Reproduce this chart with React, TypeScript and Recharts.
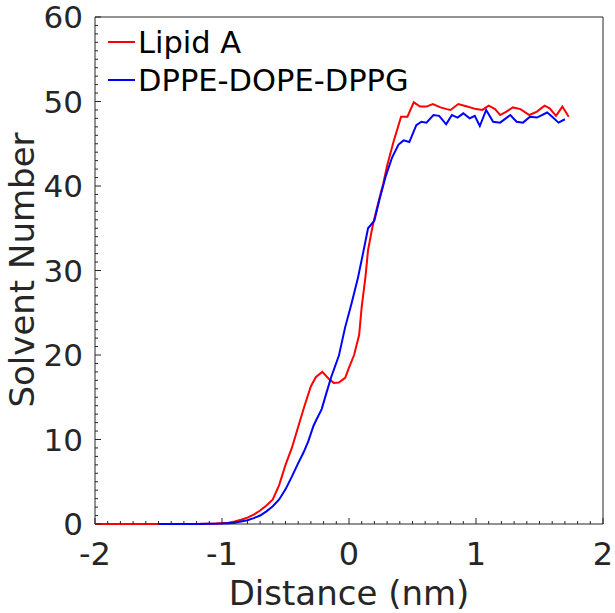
import React from 'react';
import { LineChart, Line, XAxis, YAxis, Legend, ReferenceArea } from 'recharts';

// Lipid A solvent profile
const lipidADistance = [
  -2, -1.5, -1.2, -1.05, -0.95, -0.9, -0.85, -0.8, -0.75, -0.7, -0.65, -0.6, -0.55, -0.5,
  -0.45, -0.4, -0.35, -0.3, -0.26, -0.21, -0.16, -0.12, -0.08, -0.03, 0.0, 0.04, 0.08, 0.1,
  0.13, 0.15, 0.18, 0.2, 0.23, 0.27, 0.3, 0.35, 0.41, 0.46, 0.51, 0.56, 0.61, 0.66, 0.72,
  0.77, 0.8, 0.86, 0.93, 1.0, 1.05, 1.1, 1.15, 1.19, 1.24, 1.29, 1.35, 1.42, 1.48, 1.54,
  1.58, 1.63, 1.68, 1.73,
];
const lipidASolvent = [
  0, 0, 0, 0.05, 0.15, 0.3, 0.5, 0.75, 1.1, 1.6, 2.2, 2.9, 4.6, 7.0,
  9.0, 11.5, 14.0, 16.3, 17.4, 18.0, 17.2, 16.7, 16.75, 17.3, 18.5, 20.0, 22.4, 25.7,
  29.3, 32.4, 34.8, 36.2, 38.0, 40.3, 42.4, 45.2, 48.2, 48.2, 49.9, 49.4, 49.4, 49.7, 49.3,
  49.1, 49.0, 49.7, 49.4, 49.1, 49.0, 49.5, 49.1, 48.4, 48.8, 49.3, 49.1, 48.4, 48.8, 49.5,
  49.2, 48.3, 49.4, 48.2,
];

// DPPE-DOPE-DPPG solvent profile
const mixDistance = [
  -1.5, -1.2, -1.0, -0.95, -0.9, -0.85, -0.8, -0.75, -0.7, -0.65, -0.6, -0.55, -0.5, -0.45,
  -0.4, -0.36, -0.32, -0.28, -0.255, -0.215, -0.18, -0.14, -0.08, -0.03, 0.02, 0.07, 0.11,
  0.15, 0.2, 0.24, 0.29, 0.34, 0.39, 0.43, 0.475, 0.53, 0.57, 0.61, 0.665, 0.71, 0.765,
  0.81, 0.855, 0.9, 0.95, 0.99, 1.03, 1.08, 1.135, 1.19, 1.27, 1.32, 1.37, 1.425, 1.48,
  1.56, 1.6, 1.65, 1.7,
];
const mixSolvent = [
  0, 0, 0.05, 0.1, 0.15, 0.3, 0.45, 0.7, 1.0, 1.5, 2.1, 2.9, 4.1, 5.6,
  7.2, 8.4, 9.8, 11.6, 12.4, 13.6, 15.4, 17.4, 19.9, 23.3, 26.1, 29.1, 32.0,
  35.0, 35.9, 38.4, 41.2, 43.4, 44.9, 45.4, 45.2, 47.2, 47.6, 47.5, 48.4, 48.3, 47.3,
  48.4, 48.1, 48.6, 48.0, 48.3, 47.1, 49.0, 47.6, 47.5, 48.4, 47.6, 47.5, 48.2, 48.1,
  48.7, 48.2, 47.5, 47.9,
];

const seriesNames = ['Lipid A', 'DPPE-DOPE-DPPG'];
const seriesColors = ['#ff0000', '#0000ff'];

const xDomain = [-2, 2];
const yDomain = [0, 60];

const AXIS = '#262626';
const FONT = '"DejaVu Sans", sans-serif';

const lipidAData = lipidADistance.map((x, i) => ({ x, y: lipidASolvent[i] }));
const mixData = mixDistance.map((x, i) => ({ x, y: mixSolvent[i] }));

// minor ticks: 0.1 on x, 1 on y
const xTicks: number[] = [];
for (let i = -20; i <= 20; i++) xTicks.push(i / 10);
const yTicks: number[] = [];
for (let i = 0; i <= 60; i++) yTicks.push(i);

const isMajorX = (v: number) => Math.abs(v - Math.round(v)) < 1e-6;
const isMajorY = (v: number) => Math.round(v) % 10 === 0;

const BottomTick = (props: any) => {
  const { x, y, payload } = props;
  const major = isMajorX(payload.value);
  return (
    <g>
      <line x1={x} x2={x} y1={y} y2={y - (major ? 6 : 3)} stroke={AXIS} />
      {major && (
        <text x={x} y={y + 41} textAnchor="middle" fontSize={32} fontFamily={FONT} fill={AXIS}>
          {Math.round(payload.value)}
        </text>
      )}
    </g>
  );
};

const TopTick = (props: any) => {
  const { x, y, payload } = props;
  const major = isMajorX(payload.value);
  return <line x1={x} x2={x} y1={y} y2={y + (major ? 6 : 3)} stroke={AXIS} />;
};

const LeftTick = (props: any) => {
  const { x, y, payload } = props;
  const major = isMajorY(payload.value);
  return (
    <g>
      <line x1={x} x2={x + (major ? 6 : 3)} y1={y} y2={y} stroke={AXIS} />
      {major && (
        <text x={x - 12} y={y + 11} textAnchor="end" fontSize={31} fontFamily={FONT} fill={AXIS}>
          {payload.value}
        </text>
      )}
    </g>
  );
};

const RightTick = (props: any) => {
  const { x, y, payload } = props;
  const major = isMajorY(payload.value);
  return <line x1={x} x2={x - (major ? 6 : 3)} y1={y} y2={y} stroke={AXIS} />;
};

const LegendBox = () => (
  <svg width={320} height={80}>
    {seriesNames.map((name, i) => (
      <g key={name}>
        <line x1={8} x2={35} y1={22 + i * 38} y2={22 + i * 38} stroke={seriesColors[i]} strokeWidth={2} />
        <text x={38} y={33 + i * 38} fontSize={30.5} fontFamily={FONT} fill="#000">
          {name}
        </text>
      </g>
    ))}
  </svg>
);

export default function App() {
  return (
    <div style={{ position: 'absolute', left: 0, top: 0, background: '#fff' }}>
      <LineChart width={615} height={613} margin={{ top: 16, right: 11, bottom: 49, left: 25 }}>
        <XAxis
          xAxisId="bottom"
          dataKey="x"
          type="number"
          domain={xDomain}
          ticks={xTicks}
          interval={0}
          height={40}
          tickSize={0}
          tickMargin={0}
          tickLine={false}
          axisLine={false}
          tick={BottomTick}
          label={{
            content: () => (
              <text x={349} y={605} textAnchor="middle" fontSize={34} fontFamily={FONT} fill={AXIS}>
                Distance (nm)
              </text>
            ),
          }}
        />
        <XAxis
          xAxisId="top"
          orientation="top"
          type="number"
          domain={xDomain}
          ticks={xTicks}
          interval={0}
          height={1}
          tickSize={0}
          tickMargin={0}
          tickLine={false}
          axisLine={false}
          tick={TopTick}
        />
        <YAxis
          yAxisId="left"
          type="number"
          domain={yDomain}
          ticks={yTicks}
          interval={0}
          width={70}
          tickSize={0}
          tickMargin={0}
          tickLine={false}
          axisLine={false}
          tick={LeftTick}
          label={{
            content: () => (
              <text x={34} y={270} transform="rotate(-90, 34, 270)" textAnchor="middle" fontSize={34} fontFamily={FONT} fill={AXIS}>
                Solvent Number
              </text>
            ),
          }}
        />
        <YAxis
          yAxisId="right"
          orientation="right"
          type="number"
          domain={yDomain}
          ticks={yTicks}
          interval={0}
          width={1}
          tickSize={0}
          tickMargin={0}
          tickLine={false}
          axisLine={false}
          tick={RightTick}
        />
        <ReferenceArea
          xAxisId="bottom"
          yAxisId="left"
          x1={xDomain[0]}
          x2={xDomain[1]}
          y1={yDomain[0]}
          y2={yDomain[1]}
          fill="none"
          fillOpacity={0}
          stroke={AXIS}
          strokeWidth={1}
          ifOverflow="visible"
        />
        <Legend
          layout="horizontal"
          align="center"
          verticalAlign="middle"
          content={LegendBox}
          wrapperStyle={{ left: 100, top: 20, width: 320, height: 80 }}
        />
        <Line
          data={lipidAData}
          xAxisId="bottom"
          yAxisId="left"
          dataKey="y"
          name={seriesNames[0]}
          type="linear"
          stroke={seriesColors[0]}
          strokeWidth={2}
          dot={false}
          isAnimationActive={false}
        />
        <Line
          data={mixData}
          xAxisId="bottom"
          yAxisId="left"
          dataKey="y"
          name={seriesNames[1]}
          type="linear"
          stroke={seriesColors[1]}
          strokeWidth={2}
          dot={false}
          isAnimationActive={false}
        />
      </LineChart>
    </div>
  );
}
